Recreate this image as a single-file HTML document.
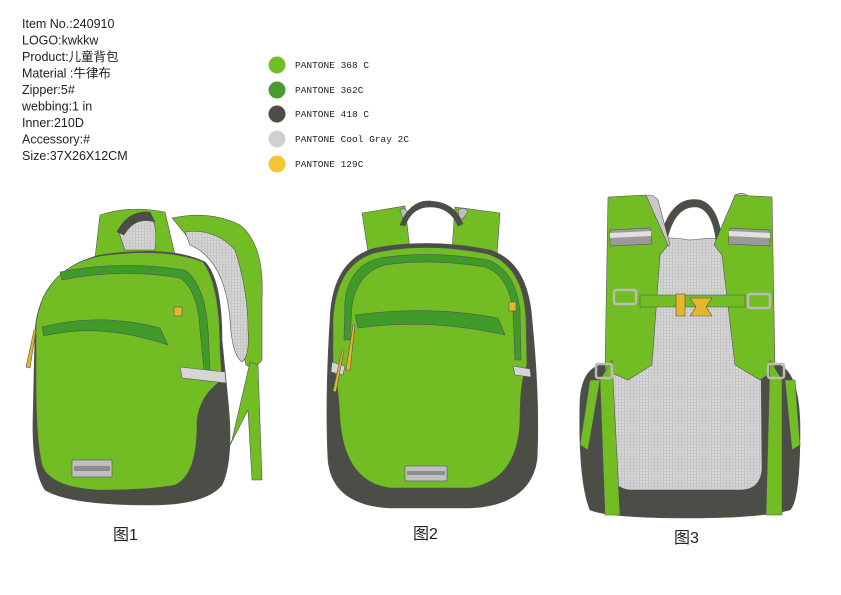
<!DOCTYPE html>
<html><head><meta charset="utf-8"><style>
html,body{margin:0;padding:0;background:#fff;width:841px;height:595px;overflow:hidden}
svg{display:block}
</style></head><body>
<svg width="841" height="595" viewBox="0 0 841 595" xmlns="http://www.w3.org/2000/svg">
<defs>
<pattern id="mesh" width="3" height="3" patternUnits="userSpaceOnUse">
<rect width="3" height="3" fill="#d6d6d6"/><rect width="1" height="3" fill="#c4c4c4"/><rect width="3" height="1" fill="#c8c8c8"/>
</pattern>
</defs>
<g font-family="Liberation Sans, Noto Sans CJK SC, sans-serif" font-size="12.5" fill="#222">
<text x="22" y="28">Item No.:240910</text>
<text x="22" y="44.5">LOGO:kwkkw</text>
<text x="22" y="61">Product:儿童背包</text>
<text x="22" y="77.5">Material :牛律布</text>
<text x="22" y="94">Zipper:5#</text>
<text x="22" y="110.5">webbing:1 in</text>
<text x="22" y="127">Inner:210D</text>
<text x="22" y="143.5">Accessory:#</text>
<text x="22" y="160">Size:37X26X12CM</text>
</g>
<g font-family="Liberation Mono, monospace" font-size="9.5" fill="#222">
<circle cx="277" cy="65" r="8.5" fill="#72bd23"/><text x="295" y="68">PANTONE 368 C</text>
<circle cx="277" cy="90" r="8.5" fill="#4a9b2e"/><text x="295" y="93">PANTONE 362C</text>
<circle cx="277" cy="114" r="8.5" fill="#4b4d47"/><text x="295" y="117">PANTONE 418 C</text>
<circle cx="277" cy="139" r="8.5" fill="#cfd0cf"/><text x="295" y="142">PANTONE Cool Gray 2C</text>
<circle cx="277" cy="164" r="8.5" fill="#f2c733"/><text x="295" y="167">PANTONE 129C</text>
</g>

<!-- BAG 1 -->
<g stroke="#555" stroke-width="0.6">
<path d="M172 218 Q210 210 240 225 Q265 245 262 300 L262 360 Q255 370 246 365 L235 320 Q228 245 190 240 Z" fill="#72bd23"/>
<path d="M185 232 Q215 228 235 250 Q248 290 248 330 Q250 355 242 362 Q232 355 230 320 Q225 260 190 245 Z" fill="url(#mesh)"/>
<path d="M250 362 L258 365 L262 480 L252 480 L248 410 L225 455 L232 440 Z" fill="#72bd23"/>
<path d="M100 215 Q130 205 165 212 L175 255 L95 258 Z" fill="#72bd23"/>
<path d="M118 230 Q130 210 150 215 Q158 225 155 250 L125 250 Z" fill="url(#mesh)"/>
<path d="M117 232 Q128 210 150 212 L155 222 Q135 216 124 235 Z" fill="#4b4d47"/>
<path d="M35 330 Q40 270 100 255 Q170 245 205 262 Q222 280 222 340 L228 400 Q234 460 222 485 Q205 505 150 505 Q70 505 45 490 Q32 470 33 420 Z" fill="#4b4d47"/>
<path d="M36 325 Q43 268 100 256 Q165 247 203 262 Q220 285 220 350 L222 380 Q200 395 197 420 Q198 475 175 485 Q150 490 100 490 Q50 488 42 465 Q36 440 36 380 Z" fill="#72bd23"/>
<path d="M60 272 Q120 260 185 270 Q205 285 208 330 L210 370 L204 370 L200 330 Q198 290 180 278 Q120 268 62 280 Z" fill="#3f9a2a"/>
<path d="M42 327 Q100 312 160 328 L168 345 Q100 322 44 336 Z" fill="#3f9a2a"/>
<path d="M180 367 L225 372 L226 383 L182 378 Z" fill="#d5d5d5"/>
<rect x="72" y="460" width="40" height="17" fill="#bfbfbf"/>
<rect x="74" y="466" width="36" height="5" fill="#8c8c8c" stroke="none"/>
<path d="M36 330 L30 368 L26 367 L34 330 Z" fill="#e6b52a"/>
<rect x="174" y="307" width="8" height="9" fill="#e6b52a"/>
</g>

<!-- BAG 2 -->
<g stroke="#555" stroke-width="0.6">
<path d="M362 213 L405 206 L410 250 L368 252 Z" fill="#72bd23"/>
<path d="M455 207 L500 213 L497 255 L452 250 Z" fill="#72bd23"/>
<path d="M400 210 Q405 206 410 215 L405 225 Z M458 210 Q465 206 468 212 L460 222 Z" fill="#bdbdbd"/>
<path d="M400 225 Q410 200 430 201 Q455 202 463 224 L458 226 Q450 207 430 207 Q412 207 405 226 Z" fill="#4b4d47"/>
<path d="M330 320 Q332 260 375 248 Q430 238 490 250 Q528 262 532 320 Q540 400 537 460 Q530 505 470 508 L390 508 Q332 505 328 460 Q325 400 330 320 Z" fill="#4b4d47"/>
<path d="M333 320 Q336 262 378 252 Q430 242 488 254 Q524 266 526 320 L527 365 Q520 380 520 420 Q518 480 470 488 L390 488 Q345 482 340 420 Q338 380 333 365 Z" fill="#72bd23"/>
<path d="M345 300 Q350 265 380 258 Q430 250 488 260 Q515 270 520 310 L521 360 L515 360 L513 310 Q508 275 485 267 Q430 258 385 265 Q358 272 352 305 L350 340 L344 340 Z" fill="#3f9a2a"/>
<path d="M355 315 Q430 305 498 318 L505 335 Q430 318 358 328 Z" fill="#3f9a2a"/>
<path d="M332 362 L345 366 L343 375 L331 372 Z" fill="#d5d5d5"/>
<path d="M513 366 L530 369 L531 377 L515 375 Z" fill="#d5d5d5"/>
<rect x="405" y="466" width="42" height="15" fill="#bfbfbf"/>
<rect x="407" y="471" width="38" height="4" fill="#8c8c8c" stroke="none"/>
<path d="M355 325 L350 370 L346 370 L353 325 Z M344 350 L336 392 L333 391 L342 350 Z" fill="#e6b52a"/>
<rect x="509" y="302" width="7" height="9" fill="#e6b52a"/>
</g>

<!-- BAG 3 -->
<g stroke="#555" stroke-width="0.6">
<path d="M580 400 Q582 370 600 365 L780 365 Q800 375 800 430 Q800 500 790 510 Q760 518 690 518 Q610 518 590 510 Q578 480 580 400 Z" fill="#4b4d47"/>
<path d="M612 240 Q660 235 690 240 Q735 235 760 245 L762 470 Q760 490 740 490 L630 490 Q612 488 610 470 Z" fill="url(#mesh)"/>
<path d="M660 240 Q670 195 700 200 Q718 205 722 240 L716 240 Q712 210 697 207 Q675 205 667 240 Z" fill="#4b4d47"/>
<path d="M640 200 Q650 190 658 200 L670 245 L650 250 Z M720 245 L735 195 Q745 190 752 200 L740 250 Z" fill="#c8c8c8"/>
<path d="M608 197 L646 195 L668 245 L660 255 L652 365 L628 380 L605 370 Z" fill="#72bd23"/>
<path d="M772 197 L735 195 L714 245 L722 255 L735 365 L760 380 L775 370 Z" fill="#72bd23"/>
<path d="M610 230 L650 228 L652 244 L610 246 Z M730 228 L770 230 L770 246 L728 244 Z" fill="#9a9a9a"/>
<path d="M610 233 L651 231 L651 236 L610 238 Z M729 231 L770 233 L770 238 L729 236 Z" fill="#e0e0e0" stroke="none"/>
<path d="M600 380 L612 360 L620 515 L605 515 Z" fill="#72bd23"/>
<path d="M770 360 L782 380 L782 515 L766 515 Z" fill="#72bd23"/>
<path d="M590 380 L600 380 L588 450 L580 445 Z M785 380 L795 380 L800 445 L792 450 Z" fill="#72bd23"/>
<path d="M640 295 L745 295 L745 307 L640 307 Z" fill="#72bd23"/>
<rect x="614" y="290" width="22" height="14" rx="2" fill="none" stroke="#bbb" stroke-width="2.5"/>
<rect x="748" y="294" width="22" height="14" rx="2" fill="none" stroke="#bbb" stroke-width="2.5"/>
<rect x="676" y="294" width="9" height="22" fill="#e6b52a"/>
<path d="M690 298 L712 298 L706 307 L712 316 L690 316 L696 307 Z" fill="#e6b52a"/>
<rect x="596" y="364" width="16" height="14" rx="2" fill="none" stroke="#bbb" stroke-width="2.5"/>
<rect x="768" y="364" width="16" height="14" rx="2" fill="none" stroke="#bbb" stroke-width="2.5"/>
</g>

<g font-family="Liberation Sans, Noto Sans CJK SC, sans-serif" font-size="16" fill="#222">
<text x="113" y="540">图1</text>
<text x="413" y="539">图2</text>
<text x="674" y="543">图3</text>
</g>
</svg>
</body></html>
